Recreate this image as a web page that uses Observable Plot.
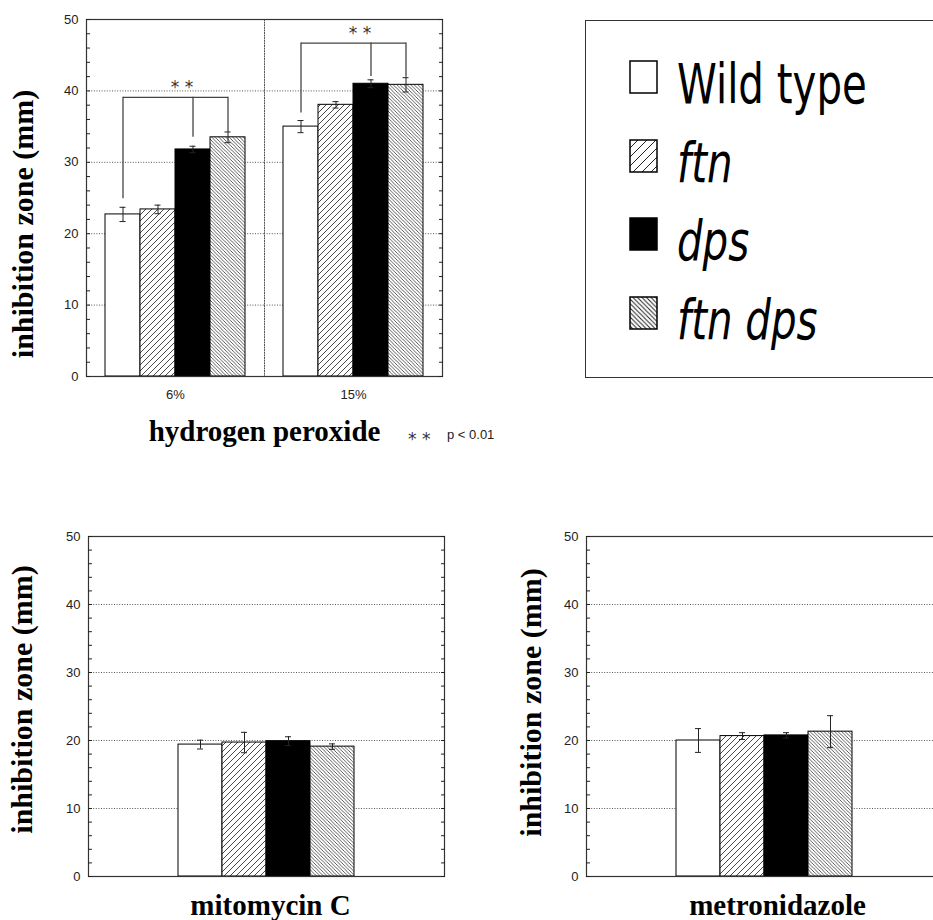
<!DOCTYPE html>
<html>
<head>
<meta charset="utf-8">
<script src="https://cdn.jsdelivr.net/npm/d3@7"></script>
<script src="https://cdn.jsdelivr.net/npm/@observablehq/plot@0.6"></script>
<style>
  html, body { margin: 0; padding: 0; background: #fff; }
  body { width: 933px; height: 920px; overflow: hidden; position: relative; }
  .panel { position: absolute; }
  .panel svg { overflow: visible; max-width: none !important; }
  #legend { position: absolute; left: 585px; top: 20px; width: 400px; height: 358px; border: 1.5px solid #333; box-sizing: border-box; }
  #pnote { position: absolute; left: 400px; top: 420px; }
</style>
</head>
<body>
<svg width="0" height="0" style="position:absolute">
  <defs>
    <pattern id="hatchFtn" patternUnits="userSpaceOnUse" width="6" height="6">
      <rect width="6" height="6" fill="white"/>
      <path d="M-1,1 l2,-2 M0,6 l6,-6 M5,7 l2,-2" stroke="#333" stroke-width="0.9"/>
    </pattern>
    <pattern id="hatchFtnDps" patternUnits="userSpaceOnUse" width="3.5" height="3.5">
      <rect width="3.5" height="3.5" fill="white"/>
      <path d="M0,0 l3.5,3.5 M-1,2.5 l2,2 M2.5,-1 l2,2" stroke="#333" stroke-width="0.8"/>
    </pattern>
    <pattern id="hatchFtnBig" patternUnits="userSpaceOnUse" width="9" height="9">
      <rect width="9" height="9" fill="white"/>
      <path d="M-1,1 l2,-2 M0,9 l9,-9 M8,10 l2,-2" stroke="#222" stroke-width="1"/>
    </pattern>
    <pattern id="hatchFtnDpsBig" patternUnits="userSpaceOnUse" width="4.5" height="4.5">
      <rect width="4.5" height="4.5" fill="white"/>
      <path d="M0,0 l4.5,4.5 M-1,3.5 l2,2 M3.5,-1 l2,2" stroke="#222" stroke-width="1"/>
    </pattern>
  </defs>
</svg>

<div class="panel" id="top" style="left:0;top:0;width:470px;height:460px"></div>
<div class="panel" id="mito" style="left:0;top:500px;width:470px;height:430px"></div>
<div class="panel" id="metro" style="left:470px;top:500px;width:480px;height:430px"></div>
<div id="legend"></div>
<div id="pnote"></div>

<script>
// ---------------- data ----------------
const strains = ["Wild type", "ftn", "dps", "ftn dps"];
const h2o2Groups = ["6%", "15%"];
const h2o2Mean6 = [22.7, 23.4, 31.8, 33.5];
const h2o2Err6 = [1.0, 0.6, 0.45, 0.75];
const h2o2Mean15 = [35.0, 38.05, 41.0, 40.85];
const h2o2Err15 = [0.85, 0.45, 0.55, 1.0];
const mitoMean = [19.4, 19.7, 19.9, 19.1];
const mitoErr = [0.65, 1.5, 0.65, 0.4];
const metroMean = [20.0, 20.65, 20.75, 21.3];
const metroErr = [1.75, 0.5, 0.4, 2.35];
const yTicks = [0, 10, 20, 30, 40, 50];
const gridValues = [10, 20, 30, 40];
const bracketLevel = [39.1, 46.7];
const bracketCompared = ["Wild type", "dps", "ftn dps"];
const bracketDropEnd6 = [24.9, 33.5, 34.2];
const bracketDropEnd15 = [36.9, 42.0, 41.9];
const sigLabel = "* *";
const pLabel = "p < 0.01";
const yTitle = "inhibition zone (mm)";
const xTitles = ["hydrogen peroxide", "mitomycin C", "metronidazole"];

// ---------------- styles ----------------
const ink = "#222";
const tickFont = "'Liberation Sans', Arial, sans-serif";
const titleFont = "'Liberation Serif', 'Times New Roman', serif";
const starFont = "'DejaVu Sans', sans-serif";
const fillRange = ["white", "url(#hatchFtn)", "black", "url(#hatchFtnDps)"];
const gridStyle = {stroke: "#555", strokeDasharray: "1,1.6", strokeOpacity: 1, strokeWidth: 1};
const minorTicks = d3.range(0, 51, 2);

const rows = (group, means, errs) => strains.map((s, i) => ({group, strain: s, value: means[i], err: errs[i]}));
const h2o2 = [...rows(h2o2Groups[0], h2o2Mean6, h2o2Err6), ...rows(h2o2Groups[1], h2o2Mean15, h2o2Err15)];
const mito = rows("mitomycin C", mitoMean, mitoErr);
const metro = rows("metronidazole", metroMean, metroErr);
const dropEnds = [bracketDropEnd6, bracketDropEnd15];
const brackets = h2o2Groups.map((g, gi) => ({group: g, level: bracketLevel[gi], from: bracketCompared[0], to: bracketCompared[bracketCompared.length - 1], star: "dps"}));
const drops = h2o2Groups.flatMap((g, gi) => bracketCompared.map((s, si) => ({group: g, strain: s, level: bracketLevel[gi], end: dropEnds[gi][si]})));

function errorMarks(data, capInset, facet) {
  const f = facet ? {fx: "group"} : {};
  return [
    Plot.ruleX(data, {...f, x: "strain", y1: d => d.value - d.err, y2: d => d.value + d.err, stroke: ink, strokeWidth: 1}),
    Plot.tickY(data, {...f, x: "strain", y: d => d.value - d.err, insetLeft: capInset, insetRight: capInset, stroke: ink, strokeWidth: 1}),
    Plot.tickY(data, {...f, x: "strain", y: d => d.value + d.err, insetLeft: capInset, insetRight: capInset, stroke: ink, strokeWidth: 1})
  ];
}

function yAxes(titleDx, titleDy, superFacet) {
  return [
    Plot.axisY({anchor: "left", ticks: minorTicks, tickSize: -4, tickFormat: () => "", label: null, stroke: ink}),
    Plot.axisY({anchor: "right", ticks: minorTicks, tickSize: -4, tickFormat: () => "", label: null, stroke: ink}),
    Plot.axisY({anchor: "left", ticks: yTicks, tickSize: 0, tickPadding: 8, fontSize: 13, fontFamily: tickFont, fill: ink, label: null}),
    Plot.text([yTitle], {frameAnchor: "left", rotate: -90, textAnchor: "middle", lineAnchor: "top", dx: titleDx, dy: titleDy,
      ...(superFacet ? {facet: "super"} : {}),
      fontSize: 30, fontFamily: titleFont, fontWeight: "bold", fill: "#000"})
  ];
}

// ---------------- top chart: hydrogen peroxide ----------------
const topChart = Plot.plot({
  width: 470, height: 460,
  marginLeft: 85, marginRight: 28, marginTop: 19, marginBottom: 84,
  fx: {domain: h2o2Groups, padding: 0, axis: null},
  x: {domain: strains, paddingInner: 0, paddingOuter: 0.5, axis: null},
  y: {domain: [0, 50], axis: null},
  color: {domain: strains, range: fillRange},
  marks: [
    Plot.gridY(gridValues, gridStyle),
    Plot.frame({anchor: "left", ...gridStyle}),
    Plot.barY(h2o2, {fx: "group", x: "strain", y: "value", fill: "strain", stroke: "#000", strokeWidth: 1}),
    ...errorMarks(h2o2, 14.5, true),
    Plot.link(brackets, {fx: "group", x1: "from", x2: "to", y1: "level", y2: "level", stroke: "#444", strokeWidth: 1.3}),
    Plot.ruleX(drops, {fx: "group", x: "strain", y1: "end", y2: "level", stroke: "#444", strokeWidth: 1.3}),
    Plot.text(brackets, {fx: "group", x: "star", y: "level", text: () => sigLabel, dx: -11, dy: -10, fontSize: 17, fontFamily: starFont, fill: "#333"}),
    Plot.frame({facet: "super", stroke: "#333", strokeWidth: 1.2}),
    ...yAxes(-75, 26, true),
    Plot.axisFx({anchor: "bottom", tickSize: 0, tickPadding: 13, fontSize: 13, fontFamily: tickFont, fill: ink, label: null}),
    Plot.axisFx({anchor: "bottom", ticks: [], tickSize: 0, label: xTitles[0], labelAnchor: "center", labelOffset: 64,
      fontSize: 29, fontFamily: titleFont, fontWeight: "bold", fill: "#000"})
  ]
});
document.getElementById("top").append(topChart);

// ---------------- bottom charts ----------------
function single(data, title, opts) {
  return Plot.plot({
    width: opts.width, height: 430,
    marginLeft: opts.marginLeft, marginRight: opts.marginRight, marginTop: 36, marginBottom: 54,
    x: {domain: strains, paddingInner: 0, paddingOuter: 2, axis: null},
    y: {domain: [0, 50], axis: null},
    color: {domain: strains, range: fillRange},
    marks: [
      Plot.gridY(gridValues, gridStyle),
      Plot.barY(data, {x: "strain", y: "value", fill: "strain", stroke: "#000", strokeWidth: 1}),
      ...errorMarks(data, 19, false),
      Plot.frame({stroke: "#333", strokeWidth: 1.2}),
      ...yAxes(opts.titleDxY, opts.titleDyY, false),
      Plot.text([title], {frameAnchor: "bottom", lineAnchor: "bottom", dy: 38, dx: opts.titleDx, fontSize: 29, fontFamily: titleFont, fontWeight: "bold", fill: "#000"})
    ]
  });
}
document.getElementById("mito").append(single(mito, xTitles[1], {width: 470, marginLeft: 88, marginRight: 26, titleDxY: -78, titleDyY: -7, titleDx: 4}));
document.getElementById("metro").append(single(metro, xTitles[2], {width: 480, marginLeft: 116, marginRight: 8, titleDxY: -67, titleDyY: -4, titleDx: 13}));

// ---------------- legend ----------------
const legendFills = ["white", "url(#hatchFtnBig)", "black", "url(#hatchFtnDpsBig)"];
const NS = "http://www.w3.org/2000/svg";
const leg = document.createElementNS(NS, "svg");
leg.setAttribute("width", 400); leg.setAttribute("height", 356);
const legRowTop = [40, 119, 197, 276];
strains.forEach((s, i) => {
  const r = document.createElementNS(NS, "rect");
  r.setAttribute("x", 44); r.setAttribute("y", legRowTop[i]);
  r.setAttribute("width", 27); r.setAttribute("height", 32);
  r.setAttribute("fill", legendFills[i]); r.setAttribute("stroke", "#000"); r.setAttribute("stroke-width", 1.5);
  leg.append(r);
  const t = document.createElementNS(NS, "text");
  t.setAttribute("transform", `translate(91,${legRowTop[i] + 42}) scale(0.72,1)`);
  t.setAttribute("font-family", "'DejaVu Sans', sans-serif");
  t.setAttribute("font-size", 56);
  if (i > 0) t.setAttribute("font-style", "italic");
  t.textContent = s;
  leg.append(t);
});
document.getElementById("legend").append(leg);

// ---------------- p-value note ----------------
const pn = document.createElementNS(NS, "svg");
pn.setAttribute("width", 110); pn.setAttribute("height", 30);
const a = document.createElementNS(NS, "text");
a.setAttribute("x", 8); a.setAttribute("y", 25);
a.setAttribute("font-family", starFont); a.setAttribute("font-size", 17); a.setAttribute("fill", "#333");
a.textContent = sigLabel;
const b = document.createElementNS(NS, "text");
b.setAttribute("x", 47); b.setAttribute("y", 19);
b.setAttribute("font-family", tickFont); b.setAttribute("font-size", 13); b.setAttribute("fill", "#222");
b.textContent = pLabel;
pn.append(a, b);
document.getElementById("pnote").append(pn);
</script>
</body>
</html>
